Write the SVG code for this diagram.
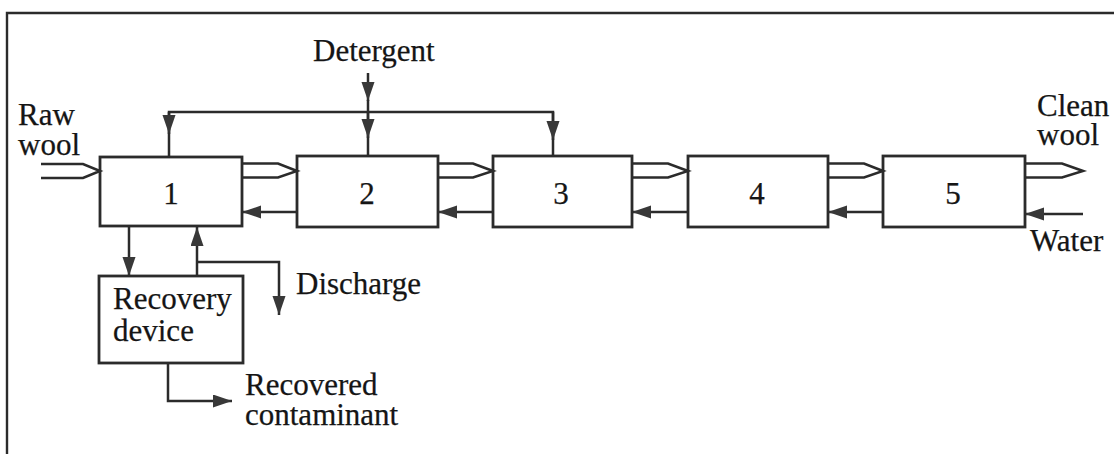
<svg xmlns="http://www.w3.org/2000/svg" width="1114" height="454" viewBox="0 0 1114 454">
  <style>
    .frame { fill: none; stroke: #2b2b2b; stroke-width: 2.4; }
    .box { fill: #ffffff; stroke: #2b2b2b; stroke-width: 2.8; }
    .line { fill: none; stroke: #2b2b2b; stroke-width: 2.5; }
    .arrow { fill: none; stroke: #2b2b2b; stroke-width: 2.5; marker-end: url(#head); }
    .wool { fill: none; stroke: #2b2b2b; stroke-width: 2.6; stroke-linejoin: miter; }
    text { font-family: "Liberation Serif", "Times New Roman", serif; font-size: 31px; fill: #151515; stroke: #151515; stroke-width: 0.25; }
    .num { text-anchor: middle; }
  </style>
  <defs>
    <marker id="head" markerUnits="userSpaceOnUse" markerWidth="20" markerHeight="14" refX="19" refY="6.5" orient="auto" viewBox="0 0 20 14">
      <path d="M0,0 L19,6.5 L0,13 Z" fill="#383838"/>
    </marker>
  </defs>

  <rect width="1114" height="454" fill="#ffffff"/>

  <!-- outer frame: top and left edges only -->
  <path class="frame" d="M7,454 V13 H1114"/>

  <!-- washing stages -->
  <g id="stage1">
    <rect class="box" x="100" y="157" width="142" height="69"/>
    <text class="num" x="171" y="204">1</text>
  </g>
  <g id="stage2">
    <rect class="box" x="297" y="156" width="141" height="71"/>
    <text class="num" x="367" y="204">2</text>
  </g>
  <g id="stage3">
    <rect class="box" x="493" y="156" width="139" height="71"/>
    <text class="num" x="561" y="204">3</text>
  </g>
  <g id="stage4">
    <rect class="box" x="688" y="156" width="140" height="71"/>
    <text class="num" x="757" y="204">4</text>
  </g>
  <g id="stage5">
    <rect class="box" x="883" y="156" width="142" height="71"/>
    <text class="num" x="953" y="204">5</text>
  </g>
  <g id="recovery">
    <rect class="box" x="99" y="276" width="144" height="87"/>
    <text x="113" y="309">Recovery<tspan x="113" y="341">device</tspan></text>
  </g>

  <!-- labels -->
  <g id="labels">
    <text x="313" y="61">Detergent</text>
    <text x="18" y="125">Raw<tspan x="18" y="155">wool</tspan></text>
    <text x="1037" y="116">Clean<tspan x="1037" y="145">wool</tspan></text>
    <text x="1030" y="251">Water</text>
    <text x="296" y="294">Discharge</text>
    <text x="245" y="395">Recovered<tspan x="245" y="425">contaminant</tspan></text>
  </g>

  <g id="connectors">
    <!-- wool flow (double-line arrows) -->
    <path class="wool" d="M41,164 H83 L100,171 L83,178 H41"/>
    <path class="wool" d="M242,163.5 H278 L297,171 L278,177.5 H242"/>
    <path class="wool" d="M438,163.5 H473 L493,171 L473,177.5 H438"/>
    <path class="wool" d="M632,163.5 H668 L688,171 L668,177.5 H632"/>
    <path class="wool" d="M828,163.5 H864 L883,171 L864,177.5 H828"/>
    <path class="wool" d="M1025,163.5 H1062 L1083,171 L1062,177.5 H1025"/>

    <!-- counter-current liquor returns -->
    <path class="arrow" d="M297,212 H242"/>
    <path class="arrow" d="M493,212 H438"/>
    <path class="arrow" d="M688,212 H632"/>
    <path class="arrow" d="M883,212 H828"/>
    <path class="arrow" d="M1083,214 H1025"/>

    <!-- detergent feed and distribution header -->
    <path class="arrow" d="M368,73 V101"/>
    <path class="line" d="M368,100 V112"/>
    <path class="line" d="M169,157 V112 H553 V157"/>
    <path class="line" d="M368,112 V157"/>
    <path class="arrow" d="M169,112 V134"/>
    <path class="arrow" d="M368,112 V138"/>
    <path class="arrow" d="M553,112 V140"/>

    <!-- recovery loop -->
    <path class="arrow" d="M129,226 V276"/>
    <path class="arrow" d="M197,276 V227"/>
    <path class="arrow" d="M197,262 H279 V315"/>
    <path class="arrow" d="M168,363 V401 H232"/>
  </g>
</svg>
